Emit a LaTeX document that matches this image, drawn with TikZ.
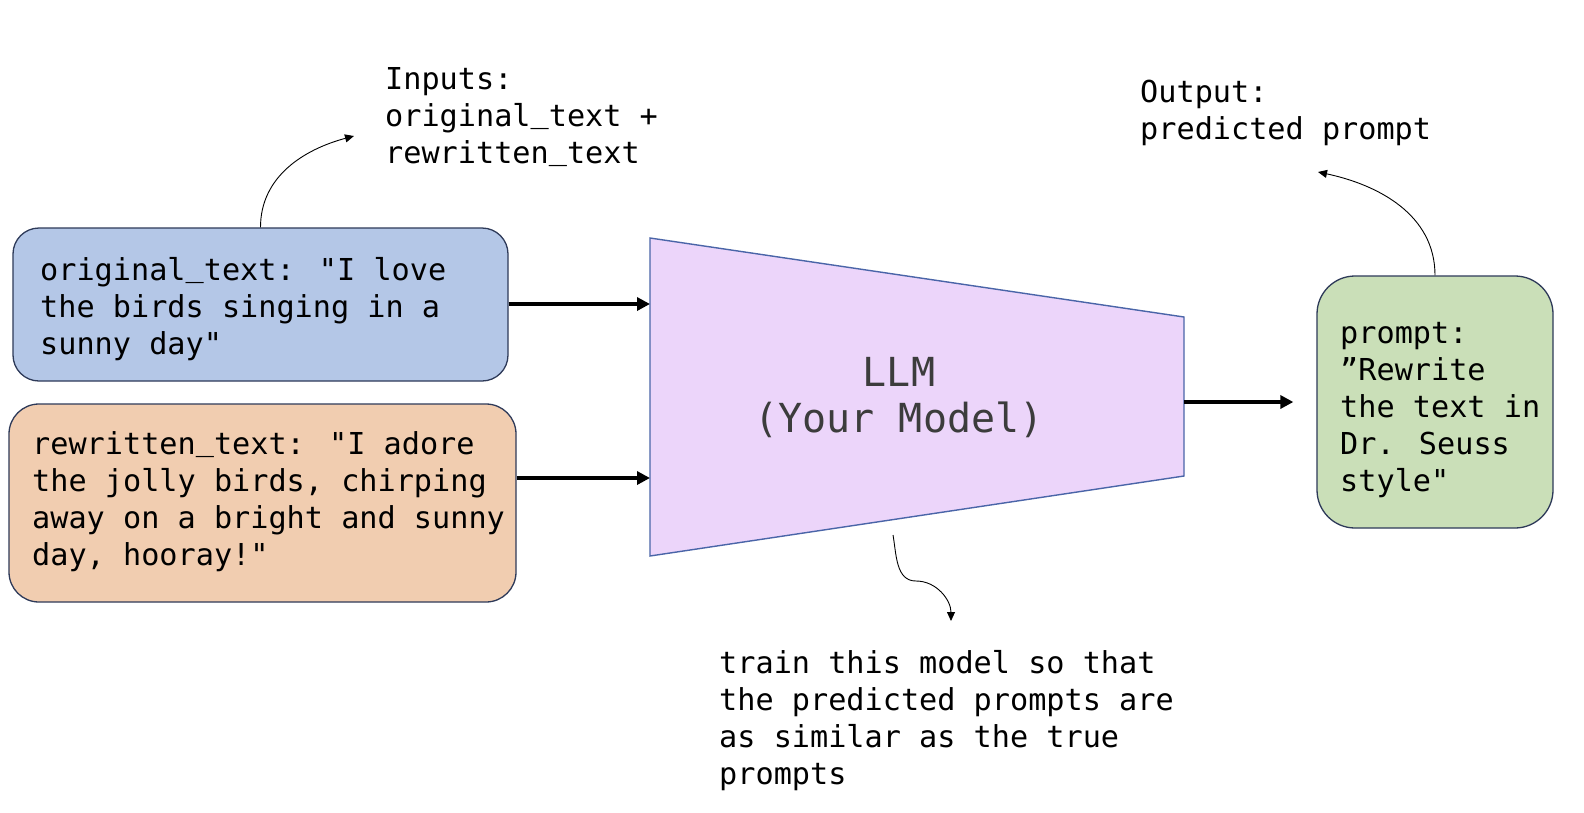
\documentclass[tikz,border=0pt]{standalone}
\usepackage{fontspec}
\newfontfamily\monof{DejaVu Sans Mono}
\usetikzlibrary{arrows.meta}
\definecolor{bluefill}{HTML}{B4C7E7}
\definecolor{orangefill}{HTML}{F1CDB0}
\definecolor{greenfill}{HTML}{CADFB8}
\definecolor{llmfill}{HTML}{ECD5FA}
\definecolor{boxline}{HTML}{2E3A59}
\definecolor{llmline}{HTML}{4A65A8}
\definecolor{llmtext}{HTML}{3C3C3C}
\newcommand\usc{\raisebox{0.12em}{\_}}
\tikzset{
  box/.style={draw=boxline, line width=1.3pt, rectangle, inner sep=0pt},
  txt/.style={font={\monof\fontsize{30.2}{37}\selectfont}, align=left, inner sep=0pt, text=black},
  bigarrow/.style={line width=3.5pt, -{Triangle[length=13pt,width=13pt]}},
  thinarrow/.style={line width=0.9pt, -{Triangle[length=9pt,width=8pt]}},
}
\begin{document}
\begin{tikzpicture}[x=1pt,y=1pt]
\useasboundingbox[fill=white] (0,0) rectangle (1584,-812);

% boxes
\node[box, fill=bluefill, rounded corners=26pt, minimum width=495pt, minimum height=153pt] (orig) at (260.5,-304.5) {};
\node[box, fill=orangefill, rounded corners=30pt, minimum width=507pt, minimum height=198pt] (rew) at (262.5,-503) {};
\node[box, fill=greenfill, rounded corners=38pt, minimum width=236pt, minimum height=252pt] (prm) at (1435,-402) {};

% LLM trapezoid
\draw[draw=llmline, fill=llmfill, line width=1.4pt] (650,-238) -- (1184,-317) -- (1184,-476) -- (650,-556) -- cycle;
\coordinate (in1) at (650,-304);
\coordinate (in2) at (650,-478);
\coordinate (out) at (1184,-402);
\node[font={\monof\fontsize{40}{46.5}\selectfont}, align=center, inner sep=0pt, text=llmtext, anchor=north] (llm) at (899,-357) {LLM\\(Your Model)};

% box texts
\node[txt, anchor=north west] (origtxt) at (40,-257) {original\usc text: "I love\\the birds singing in a\\sunny day"};
\node[txt, anchor=north west] (rewtxt) at (32,-431) {rewritten\usc text: "I adore\\the jolly birds, chirping\\away on a bright and sunny\\day, hooray!"};
\node[txt, anchor=north west] (prmtxt) at (1340,-322) {prompt:\\”Rewrite\\the text in\\Dr. Seuss\\style"};

% annotation texts
\node[txt, anchor=north west] (inputs) at (385,-67) {Inputs:\\original\usc text +\\rewritten\usc text};
\node[txt, anchor=north west] (output) at (1140,-80) {Output:\\predicted prompt};
\node[txt, anchor=north west] (train) at (719,-650) {train this model so that\\the predicted prompts are\\as similar as the true\\prompts};

% thick arrows
\draw[bigarrow] (in1 -| orig.east) -- (in1);
\draw[bigarrow] (in2 -| rew.east) -- (in2);
\draw[bigarrow] (out) -- ([xshift=-23pt]out -| prm.west);

% thin curved arrows
\coordinate (inpt) at (354,-136);
\coordinate (outpt) at (1318,-172);
\coordinate (sq0) at (893,-535);
\coordinate (sq1) at (916,-581);
\coordinate (sqend) at (951,-621);
\draw[thinarrow] (orig.north) to[out=90,in=195] (inpt);
\draw[thinarrow] (prm.north) to[out=90,in=-12] (outpt);
\draw[thinarrow] (sq0) to[out=-80,in=180] (sq1) to[out=0,in=90] (sqend);
\end{tikzpicture}
\end{document}
